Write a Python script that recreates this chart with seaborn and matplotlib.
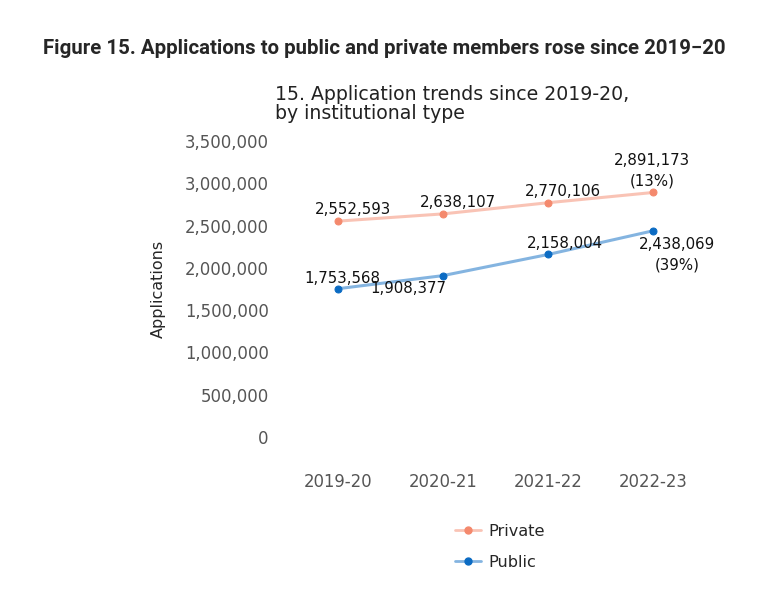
import matplotlib
matplotlib.use("Agg")
import matplotlib.pyplot as plt
from matplotlib.lines import Line2D
from matplotlib.ticker import FuncFormatter
import seaborn as sns
import pandas as pd

years = ["2019-20", "2020-21", "2021-22", "2022-23"]
private_apps = [2552593, 2638107, 2770106, 2891173]
public_apps = [1753568, 1908377, 2158004, 2438069]
private_change = "13%"
public_change = "39%"

colors = {"Private": "#F4896D", "Public": "#0B6BC3"}

df = pd.DataFrame({
    "year": years * 2,
    "applications": private_apps + public_apps,
    "type": ["Private"] * 4 + ["Public"] * 4,
})

sns.set_style("white")
plt.rcParams["font.sans-serif"] = ["DejaVu Sans"]
plt.rcParams["font.family"] = ["DejaVu Sans"]
FONT = "DejaVu Sans"

fig = plt.figure(figsize=(7.83, 5.98), dpi=100)
ax = fig.add_axes([285.5 / 783, (598 - 437) / 598, 420 / 783, 296 / 598])

sns.lineplot(data=df, x="year", y="applications", hue="type", palette=colors,
             marker="o", markersize=5, linewidth=2.2, sort=False, legend=False, ax=ax)

# faded lines, solid dots
for line, name in zip(ax.lines, ["Private", "Public"]):
    c = matplotlib.colors.to_rgb(colors[name])
    line.set_color((*c, 0.5))
    line.set_markerfacecolor((*c, 1))
    line.set_markeredgecolor((*c, 1))

ax.set_xlim(-0.5, 3.5)
ax.set_ylim(0, 3500000)
ax.set_yticks(range(0, 3500001, 500000))
ax.yaxis.set_major_formatter(FuncFormatter(lambda v, p: f"{int(v):,}"))
ax.tick_params(axis="both", length=0, labelsize=11.9, labelcolor="#555555")
ax.tick_params(axis="x", pad=26)
ax.tick_params(axis="y", pad=12)
for lbl in ax.get_xticklabels() + ax.get_yticklabels():
    lbl.set_family(FONT)
for s in ax.spines.values():
    s.set_visible(False)
ax.set_xlabel("")
ax.set_ylabel("Applications", fontsize=11.5, labelpad=14, family=FONT)

# data labels
priv_off = [(15, 12), (15, 11), (15, 11), (-1, 22)]
pub_off = [(4, 10), (-35, -13), (17, 11), (24, -24)]
for i, v in enumerate(private_apps):
    txt = f"{v:,}" if i < 3 else f"{v:,}\n({private_change})"
    ax.annotate(txt, (i, v), xytext=priv_off[i], textcoords="offset pixels",
                ha="center", va="center", fontsize=10.8, color="#111111", linespacing=1.45,
                family=FONT)
for i, v in enumerate(public_apps):
    txt = f"{v:,}" if i < 3 else f"{v:,}\n({public_change})"
    ax.annotate(txt, (i, v), xytext=pub_off[i], textcoords="offset pixels",
                ha="center", va="center", fontsize=10.8, color="#111111", linespacing=1.45,
                family=FONT)

fig.text(275 / 783, 1 - 104 / 598, "15. Application trends since 2019-20,\nby institutional type",
         fontsize=13.6, color="#222222", va="center", ha="left", linespacing=0.98, family=FONT)

fig.text(43 / 783, 1 - 48 / 598,
         "Figure 15. Applications to public and private members rose since 2019\u221220",
         fontsize=14.7, fontweight="bold", family=["Roboto", "DejaVu Sans"],
         va="center", ha="left")

handles = [Line2D([], [], color=(*matplotlib.colors.to_rgb(colors[n]), 0.5), linewidth=2,
                  marker="o", markersize=5, markerfacecolor=colors[n], markeredgecolor=colors[n])
           for n in ["Private", "Public"]]
fig.legend(handles, ["Private", "Public"], loc="center", bbox_to_anchor=(500 / 783, 1 - 547 / 598),
           frameon=False, handlelength=1.6, labelspacing=1.0, handletextpad=0.5,
           prop={"family": FONT, "size": 11.6})

fig.savefig("out.png", dpi=100)
